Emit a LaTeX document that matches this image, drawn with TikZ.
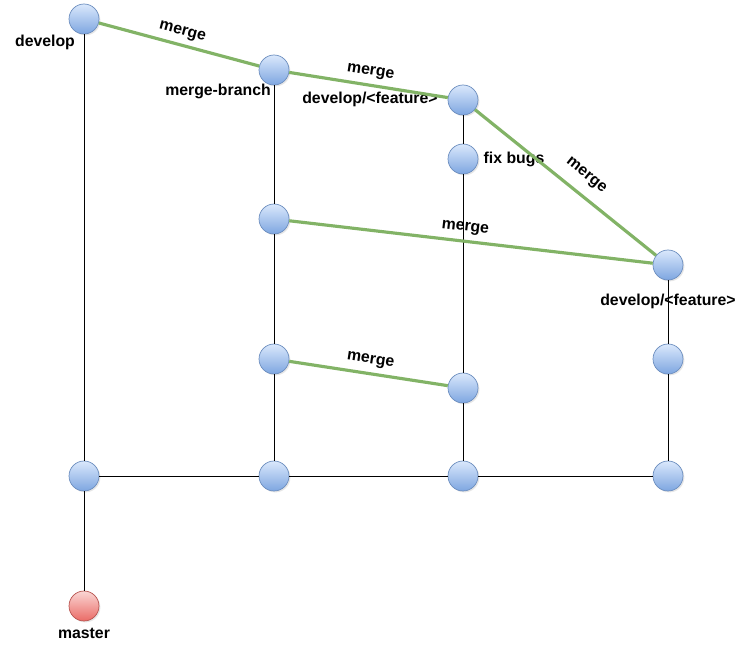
\documentclass[tikz,border=0pt]{standalone}
\usepackage{fontspec}
\setmainfont{Liberation Sans}
\usepackage{tikz}
\usetikzlibrary{shapes,arrows,positioning,calc,shadows}
\definecolor{gitBlue}{RGB}{218,232,252}
\definecolor{gitBlueDark}{RGB}{126,166,224}
\definecolor{gitEdge}{RGB}{108,142,191}
\definecolor{gitRose}{RGB}{250,214,212}
\definecolor{gitRoseDark}{RGB}{234,107,102}
\definecolor{gitRoseEdge}{RGB}{184,84,80}
\definecolor{gitGreen}{RGB}{130,179,102}

\begin{document}
\begin{tikzpicture}[x=0.02cm,y=-0.02cm,
  commit/.style={circle,draw=gitEdge,top color=gitBlue,bottom color=gitBlueDark,
                 minimum size=0.6cm,inner sep=0pt,
                 drop shadow={opacity=0.2,shadow xshift=0.8pt,shadow yshift=-0.8pt}},
  tip/.style={commit,draw=gitRoseEdge,top color=gitRose,bottom color=gitRoseDark},
  lbl/.style={font=\fontsize{9}{11}\selectfont\bfseries,inner sep=1pt},
  br/.style={draw=black,line width=0.5pt},
  mrg/.style={draw=gitGreen,line width=1.8pt}
]
\useasboundingbox (0,0) rectangle (751,658);

% Commits
\node[commit] (dev)   at (84,19)  {};
\node[commit] (mb)    at (274,70) {};
\node[commit] (feat)  at (463,100) {};
\node[commit] (fix)   at (463,159) {};
\node[commit] (feat2) at (668,265) {};
\node[commit] (m1)    at (274,219) {};
\node[commit] (m2)    at (274,359) {};
\node[commit] (c3)    at (463,388) {};
\node[commit] (d4)    at (668,359) {};
\foreach \x/\n in {84/b1,274/b2,463/b3,668/b4}
  \node[commit] (\n) at (\x,476) {};
\node[tip] (master) at (84,606) {};

% Branch names
\node[lbl] (ldev)   at (45,42)   {develop};
\node[lbl] (lmb)    at (218,91)  {merge-branch};
\node[lbl] (lfeat)  at (370,99)  {develop/<feature>};
\node[lbl] (lfix)   at (514,159) {fix bugs};
\node[lbl] (lfeat2) at (668,301) {develop/<feature>};
\node[lbl] (lmast)  at (84,633)  {master};

% Branch lines
\draw[br] (dev) -- (b1) -- (master);
\draw[br] (mb) -- (m1) -- (m2) -- (b2);
\draw[br] (feat) -- (fix) -- (c3) -- (b3);
\draw[br] (feat2) -- (d4) -- (b4);
\draw[br] (b1) -- (b2) -- (b3) -- (b4);

% Merges
\draw[mrg] (dev) -- node[lbl,sloped,above=2pt] {merge} (mb);
\draw[mrg] (mb) -- node[lbl,sloped,above=2pt] {merge} (feat);
\draw[mrg] (feat) -- node[lbl,sloped,above=5pt,pos=0.55] {merge} (feat2);
\draw[mrg] (m1) -- node[lbl,sloped,above=2pt,pos=0.48] {merge} (feat2);
\draw[mrg] (m2) -- node[lbl,sloped,above=2pt] {merge} (c3);
\end{tikzpicture}
\end{document}
